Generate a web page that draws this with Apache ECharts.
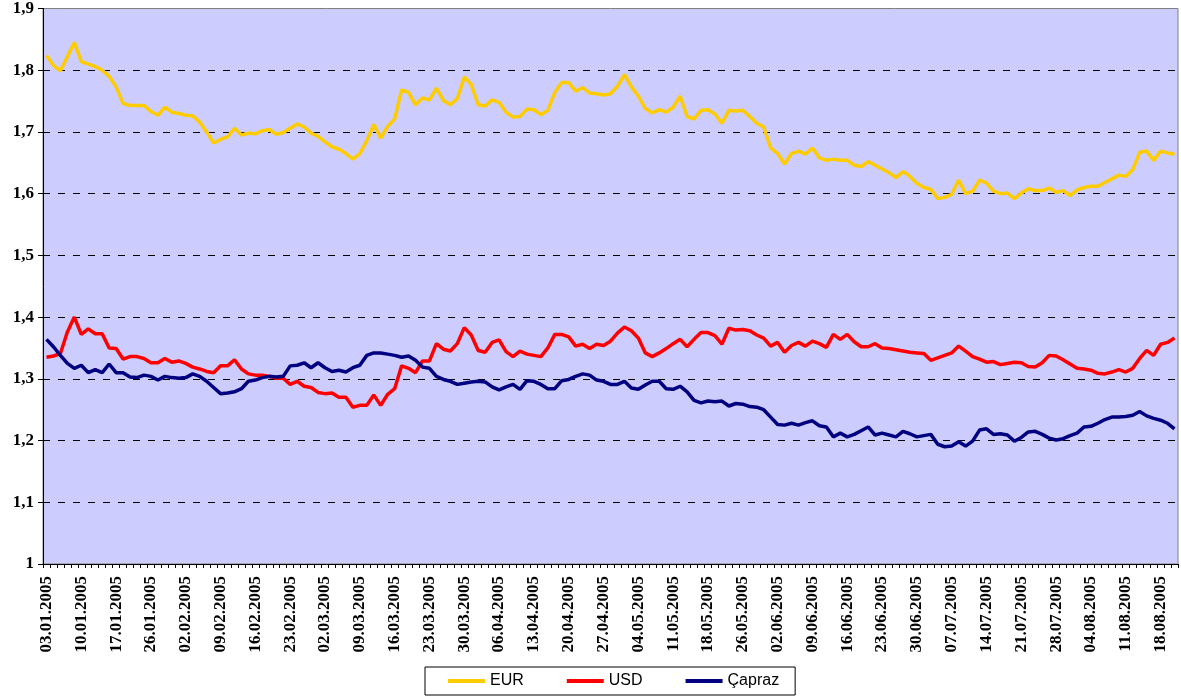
<!DOCTYPE html>
<html>
<head>
<meta charset="utf-8">
<script src="https://cdn.jsdelivr.net/npm/echarts@6/dist/echarts.min.js"></script>
<style>
html,body{margin:0;padding:0;background:#fff;}
#chart{width:1181px;height:699px;}
</style>
</head>
<body>
<div id="chart"></div>
<script>
const dates = [
"03.01.2005","04.01.2005","05.01.2005","06.01.2005","07.01.2005","10.01.2005","11.01.2005","12.01.2005","13.01.2005","14.01.2005",
"17.01.2005","18.01.2005","19.01.2005","24.01.2005","25.01.2005","26.01.2005","27.01.2005","28.01.2005","31.01.2005",
"01.02.2005","02.02.2005","03.02.2005","04.02.2005","07.02.2005","08.02.2005","09.02.2005","10.02.2005","11.02.2005","14.02.2005",
"15.02.2005","16.02.2005","17.02.2005","18.02.2005","21.02.2005","22.02.2005","23.02.2005","24.02.2005","25.02.2005","28.02.2005",
"01.03.2005","02.03.2005","03.03.2005","04.03.2005","07.03.2005","08.03.2005","09.03.2005","10.03.2005","11.03.2005","14.03.2005",
"15.03.2005","16.03.2005","17.03.2005","18.03.2005","21.03.2005","22.03.2005","23.03.2005","24.03.2005","25.03.2005","28.03.2005",
"29.03.2005","30.03.2005","31.03.2005",
"01.04.2005","04.04.2005","05.04.2005","06.04.2005","07.04.2005","08.04.2005","11.04.2005","12.04.2005","13.04.2005","14.04.2005",
"15.04.2005","18.04.2005","19.04.2005","20.04.2005","21.04.2005","22.04.2005","25.04.2005","26.04.2005","27.04.2005","28.04.2005","29.04.2005",
"02.05.2005","03.05.2005","04.05.2005","05.05.2005","06.05.2005","09.05.2005","10.05.2005","11.05.2005","12.05.2005","13.05.2005",
"16.05.2005","17.05.2005","18.05.2005","20.05.2005","23.05.2005","24.05.2005","25.05.2005","26.05.2005","27.05.2005","30.05.2005","31.05.2005",
"01.06.2005","02.06.2005","03.06.2005","06.06.2005","07.06.2005","08.06.2005","09.06.2005","10.06.2005","13.06.2005","14.06.2005",
"15.06.2005","16.06.2005","17.06.2005","20.06.2005","21.06.2005","22.06.2005","23.06.2005","24.06.2005","27.06.2005","28.06.2005",
"29.06.2005","30.06.2005",
"01.07.2005","04.07.2005","05.07.2005","06.07.2005","07.07.2005","08.07.2005","11.07.2005","12.07.2005","13.07.2005","14.07.2005",
"15.07.2005","18.07.2005","19.07.2005","20.07.2005","21.07.2005","22.07.2005","25.07.2005","26.07.2005","27.07.2005","28.07.2005","29.07.2005",
"01.08.2005","02.08.2005","03.08.2005","04.08.2005","05.08.2005","08.08.2005","09.08.2005","10.08.2005","11.08.2005","12.08.2005",
"15.08.2005","16.08.2005","17.08.2005","18.08.2005","19.08.2005","22.08.2005"
];

const eur = [
1.824,1.808,1.799,1.822,1.845,1.814,1.810,1.806,1.800,1.790,
1.773,1.746,1.743,1.743,1.743,1.733,1.727,1.740,1.732,1.730,
1.727,1.726,1.716,1.700,1.682,1.688,1.692,1.706,1.695,1.698,
1.697,1.702,1.704,1.696,1.699,1.706,1.713,1.708,1.698,1.693,
1.684,1.676,1.672,1.665,1.656,1.665,1.686,1.712,1.690,1.709,
1.721,1.768,1.764,1.744,1.755,1.752,1.771,1.751,1.744,1.754,
1.789,1.777,1.744,1.742,1.752,1.748,1.732,1.724,1.725,1.737,
1.736,1.728,1.735,1.764,1.780,1.780,1.766,1.772,1.763,1.762,
1.760,1.762,1.774,1.793,1.773,1.758,1.738,1.731,1.736,1.732,
1.740,1.758,1.725,1.721,1.735,1.736,1.729,1.714,1.735,1.734,
1.735,1.725,1.714,1.708,1.674,1.665,1.648,1.665,1.669,1.664,
1.674,1.658,1.654,1.656,1.654,1.654,1.646,1.644,1.652,1.646,
1.640,1.634,1.626,1.636,1.628,1.617,1.610,1.607,1.592,1.594,
1.599,1.622,1.600,1.604,1.622,1.617,1.604,1.600,1.601,1.592,
1.601,1.608,1.605,1.605,1.609,1.602,1.605,1.597,1.606,1.610,
1.612,1.612,1.618,1.624,1.630,1.628,1.639,1.667,1.669,1.654,
1.669,1.666,1.664
];

const usd = [
1.335,1.337,1.341,1.376,1.400,1.372,1.381,1.373,1.373,1.350,
1.349,1.332,1.336,1.336,1.333,1.326,1.326,1.333,1.327,1.329,
1.325,1.319,1.316,1.312,1.310,1.321,1.321,1.331,1.316,1.308,
1.306,1.306,1.304,1.301,1.301,1.291,1.296,1.288,1.286,1.278,
1.276,1.277,1.270,1.270,1.254,1.257,1.257,1.274,1.257,1.275,
1.284,1.321,1.317,1.310,1.329,1.329,1.357,1.348,1.345,1.357,
1.383,1.371,1.346,1.343,1.359,1.363,1.344,1.336,1.345,1.340,
1.338,1.336,1.350,1.372,1.372,1.368,1.353,1.356,1.349,1.356,
1.354,1.361,1.374,1.384,1.378,1.366,1.342,1.336,1.342,1.349,
1.357,1.364,1.352,1.364,1.375,1.375,1.370,1.356,1.382,1.379,
1.380,1.378,1.371,1.366,1.353,1.359,1.343,1.354,1.359,1.353,
1.361,1.357,1.351,1.372,1.364,1.372,1.360,1.352,1.352,1.357,
1.350,1.349,1.347,1.345,1.343,1.342,1.341,1.330,1.334,1.338,
1.342,1.353,1.345,1.336,1.332,1.327,1.328,1.323,1.325,1.327,
1.326,1.320,1.319,1.326,1.338,1.337,1.331,1.324,1.317,1.316,
1.314,1.309,1.308,1.311,1.315,1.311,1.317,1.333,1.346,1.338,
1.356,1.359,1.366
];

const capraz = [
1.364,1.352,1.338,1.325,1.317,1.322,1.310,1.315,1.310,1.324,
1.310,1.310,1.303,1.302,1.306,1.304,1.298,1.304,1.302,1.301,
1.302,1.308,1.304,1.296,1.286,1.276,1.277,1.279,1.284,1.296,
1.298,1.302,1.304,1.303,1.304,1.321,1.322,1.326,1.318,1.326,
1.318,1.312,1.314,1.311,1.318,1.322,1.338,1.342,1.342,1.340,
1.338,1.335,1.337,1.330,1.319,1.317,1.304,1.299,1.296,1.291,
1.293,1.295,1.296,1.295,1.287,1.282,1.287,1.291,1.283,1.297,
1.296,1.291,1.284,1.284,1.297,1.299,1.304,1.308,1.306,1.298,
1.296,1.291,1.291,1.296,1.285,1.283,1.290,1.296,1.296,1.284,
1.283,1.288,1.279,1.265,1.261,1.264,1.263,1.264,1.256,1.260,
1.259,1.255,1.254,1.250,1.238,1.226,1.225,1.228,1.225,1.229,
1.232,1.224,1.222,1.206,1.212,1.206,1.210,1.216,1.222,1.209,
1.212,1.209,1.206,1.215,1.211,1.206,1.208,1.210,1.194,1.190,
1.191,1.198,1.191,1.199,1.217,1.219,1.210,1.211,1.209,1.199,
1.205,1.214,1.215,1.210,1.204,1.201,1.203,1.208,1.212,1.222,
1.223,1.228,1.234,1.238,1.238,1.239,1.241,1.247,1.240,1.236,
1.233,1.228,1.219
];

const seriesNames = ["EUR", "USD", "Çapraz"];
const seriesColors = ["#FFCC00", "#FF0000", "#000080"];

const chart = echarts.init(document.getElementById('chart'), null, {renderer: 'canvas'});
const serif = '"Liberation Serif", "Times New Roman", serif';
const sans = '"Liberation Sans", Arial, sans-serif';

chart.setOption({
  animation: false,
  backgroundColor: '#ffffff',
  grid: {
    left: 43, right: 3, top: 8, bottom: 135,
    show: true, backgroundColor: '#CCCCFF', borderColor: '#808080', borderWidth: 1
  },
  legend: {
    data: seriesNames,
    left: 425, top: 667,
    orient: 'horizontal',
    icon: 'rect',
    itemWidth: 37, itemHeight: 4,
    itemGap: 43,
    padding: [6, 16, 6, 23],
    borderColor: '#000', borderWidth: 1,
    textStyle: {fontFamily: sans, fontSize: 16, color: '#000', lineHeight: 16}
  },
  xAxis: {
    type: 'category',
    data: dates,
    boundaryGap: true,
    axisLine: {show: true, lineStyle: {color: '#000', width: 1}},
    axisTick: {show: true, interval: 0, length: 4, lineStyle: {color: '#000'}},
    axisLabel: {
      interval: 4, rotate: 90, margin: 12,
      fontFamily: serif, fontWeight: 'bold', fontSize: 17, color: '#000'
    },
    splitLine: {show: false}
  },
  yAxis: {
    type: 'value',
    min: 1, max: 1.9, interval: 0.1,
    axisLine: {show: true, lineStyle: {color: '#000', width: 1}},
    axisTick: {show: true, length: 5, lineStyle: {color: '#000'}},
    axisLabel: {
      margin: 9,
      fontFamily: serif, fontWeight: 'bold', fontSize: 17, color: '#000',
      formatter: function (v) {
        const r = Math.round(v * 10) / 10;
        return Number.isInteger(r) ? String(r) : r.toFixed(1).replace('.', ',');
      }
    },
    splitLine: {
      show: true, showMinLine: false, showMaxLine: false,
      lineStyle: {color: '#000', width: 1, type: [7, 8]}
    }
  },
  series: [
    {name: seriesNames[0], type: 'line', data: eur, symbol: 'none', smooth: false,
     lineStyle: {color: seriesColors[0], width: 3.5}, itemStyle: {color: seriesColors[0]}},
    {name: seriesNames[1], type: 'line', data: usd, symbol: 'none', smooth: false,
     lineStyle: {color: seriesColors[1], width: 3.5}, itemStyle: {color: seriesColors[1]}},
    {name: seriesNames[2], type: 'line', data: capraz, symbol: 'none', smooth: false,
     lineStyle: {color: seriesColors[2], width: 3.5}, itemStyle: {color: seriesColors[2]}}
  ]
});
</script>
</body>
</html>
